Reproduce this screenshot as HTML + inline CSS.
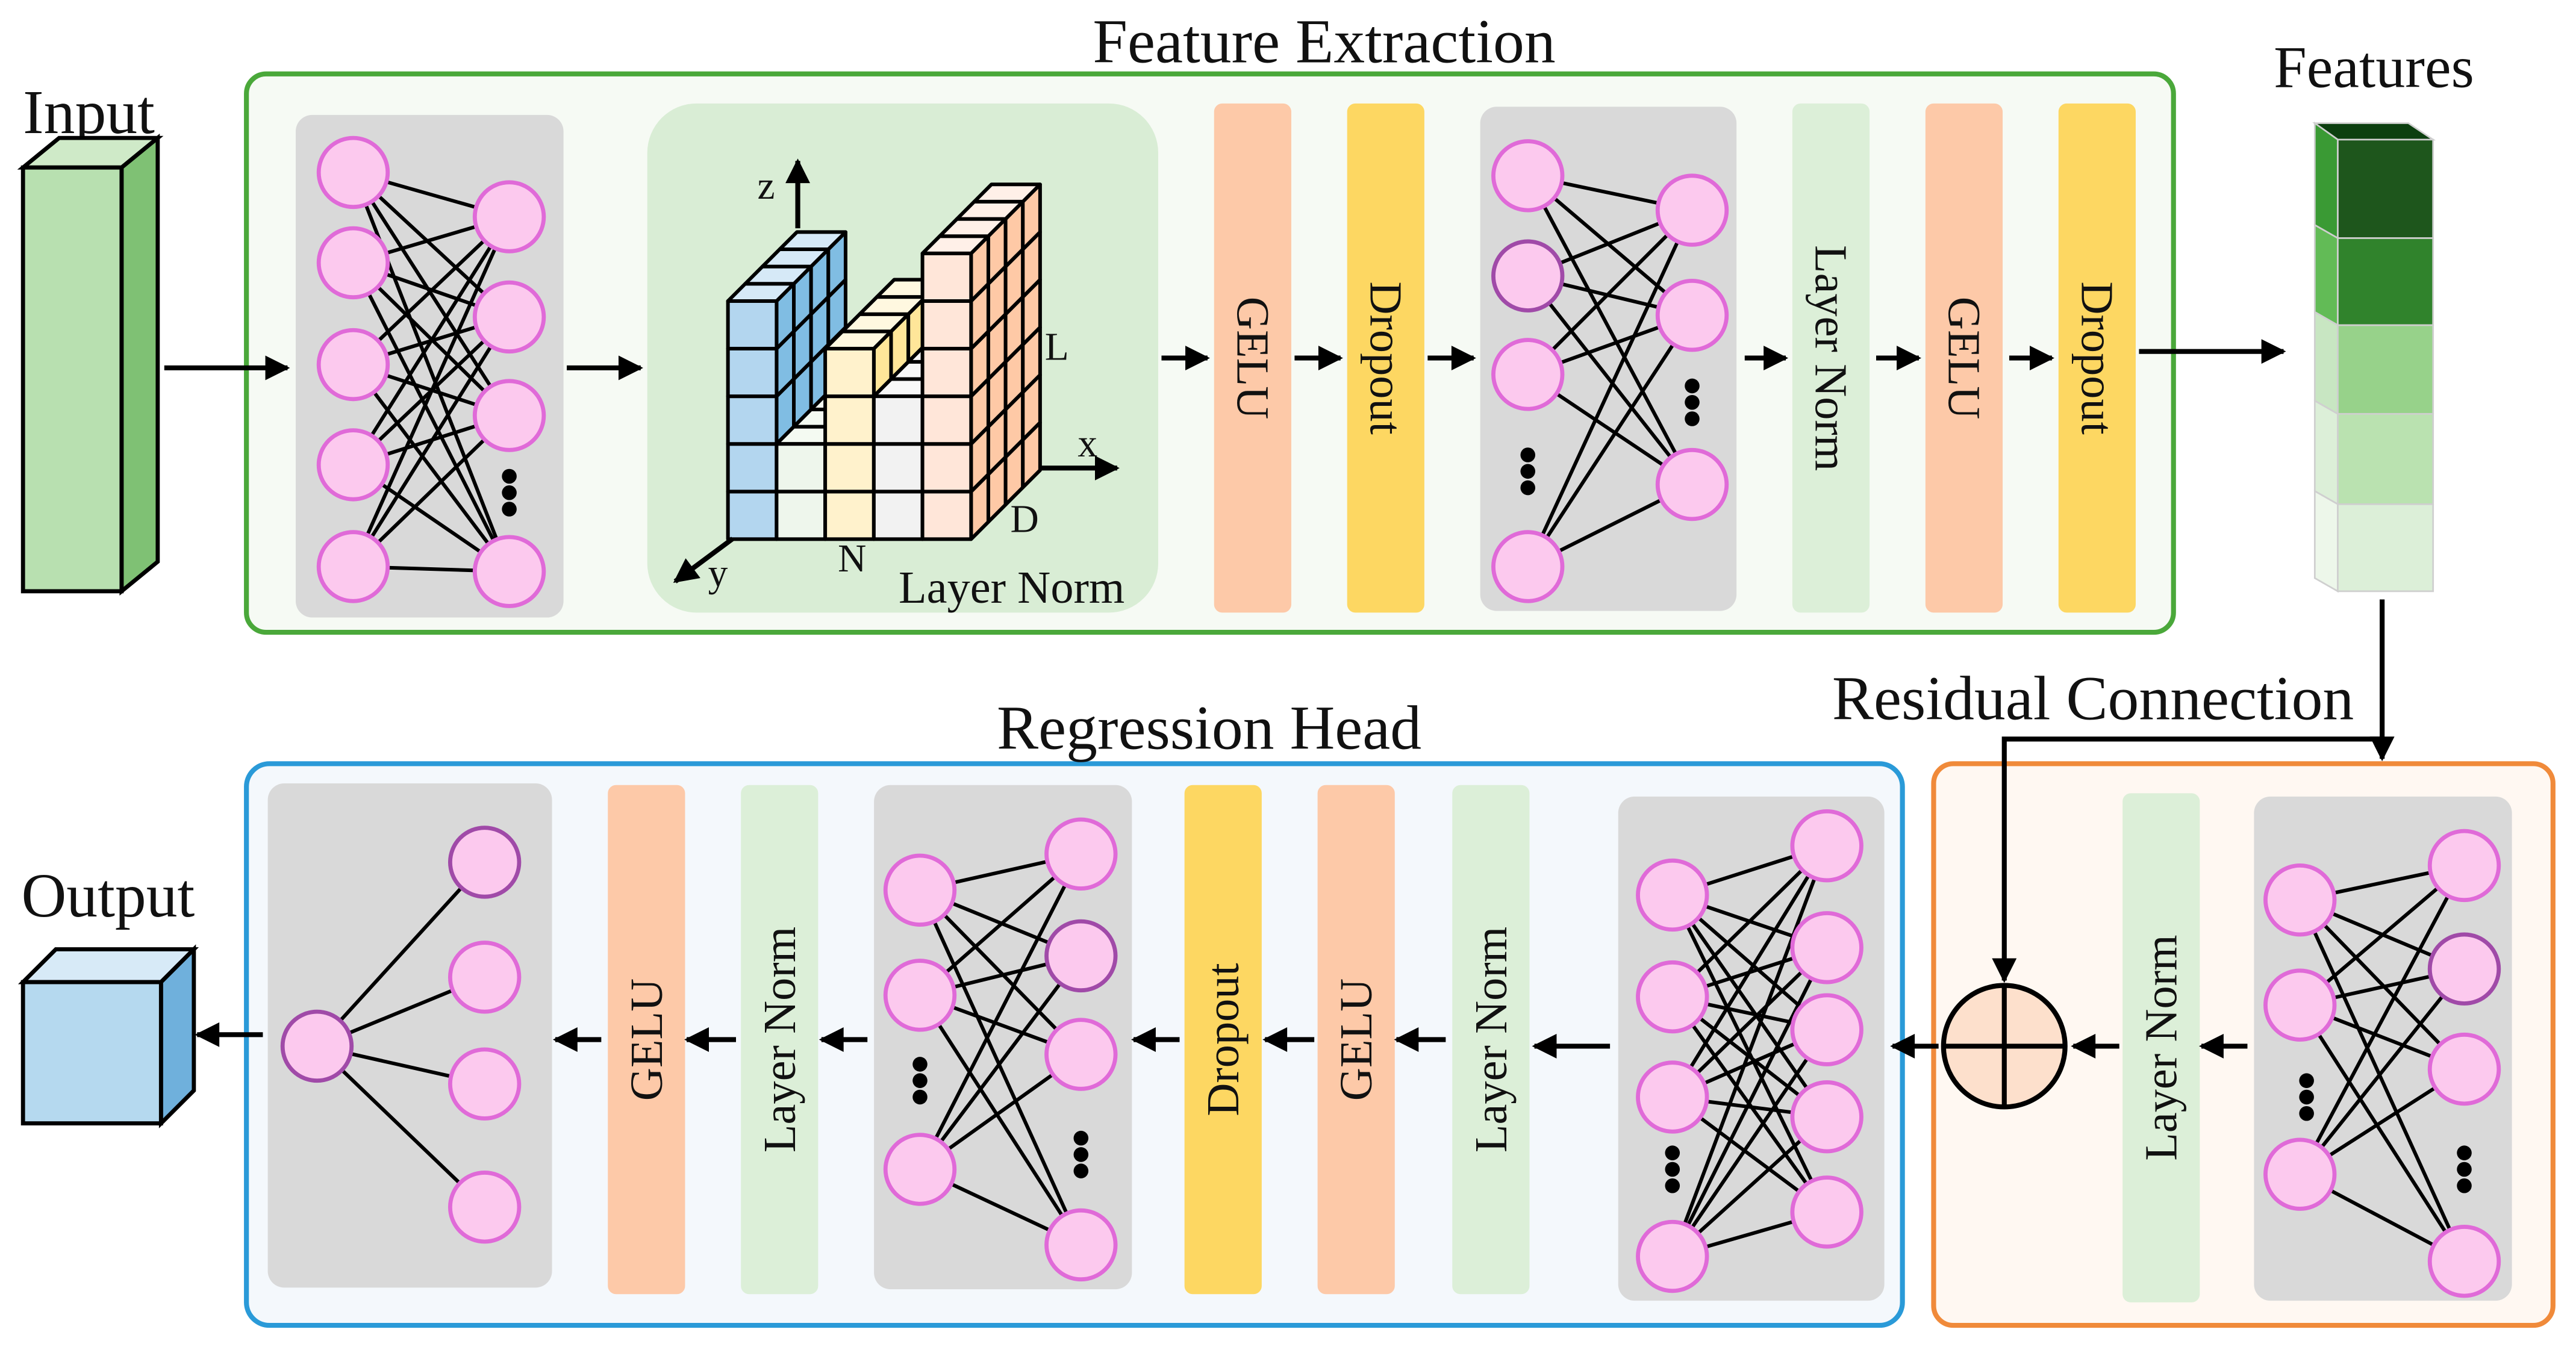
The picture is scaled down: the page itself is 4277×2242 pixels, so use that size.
<!DOCTYPE html>
<html><head><meta charset="utf-8"><style>
html,body{margin:0;padding:0;background:#fff;}
svg{display:block;}
text{font-family:"Liberation Serif",serif;fill:#111;}
</style></head><body>
<svg id="s" width="4277" height="2242" viewBox="0 0 1568 822" preserveAspectRatio="none" xmlns="http://www.w3.org/2000/svg">
<defs>
<marker id="ah" viewBox="0 0 10 10" refX="9" refY="5" markerWidth="5.5" markerHeight="5" orient="auto"><path d="M0,0 L10,5 L0,10 z" fill="#000"/></marker>
</defs>
<rect width="1568" height="822" fill="#fff"/>
<rect x="150" y="45" width="1173" height="340" rx="12" fill="#f6faf4" stroke="#4aa83a" stroke-width="3"/>
<rect x="150" y="465" width="1008" height="342" rx="14" fill="#f4f8fc" stroke="#2a9ad8" stroke-width="3"/>
<rect x="1177" y="465" width="377" height="342" rx="12" fill="#fff8f2" stroke="#f08a3a" stroke-width="3"/>

<text x="806" y="38" font-size="38" text-anchor="middle">Feature Extraction</text>
<text x="736" y="456" font-size="38" text-anchor="middle">Regression Head</text>
<text x="1274" y="438" font-size="38" text-anchor="middle">Residual Connection</text>
<text x="14" y="81" font-size="38">Input</text>
<text x="1445" y="53" font-size="36" text-anchor="middle">Features</text>
<text x="13" y="558" font-size="38">Output</text>

<polygon points="14,102 36,84 96,84 74,102" fill="#cfeac8" stroke="#000" stroke-width="2.5"/>
<polygon points="74,102 96,84 96,342 74,360" fill="#7fc174" stroke="#000" stroke-width="2.5"/>
<rect x="14" y="102" width="60" height="258" fill="#b8e0b0" stroke="#000" stroke-width="2.5"/>
<polygon points="14,598 34,578 118,578 98,598" fill="#d7eaf7" stroke="#000" stroke-width="2.5"/>
<polygon points="98,598 118,578 118,664 98,684" fill="#6fb0dc" stroke="#000" stroke-width="2.5"/>
<rect x="14" y="598" width="84" height="86" fill="#b5d9ef" stroke="#000" stroke-width="2.5"/>

<rect x="394" y="63" width="311" height="310" rx="30" fill="#d9edd5"/>
<g id="cube"></g>
<text x="547" y="367" font-size="28">Layer Norm</text>
<text x="461" y="121" font-size="24">z</text>
<text x="636" y="219" font-size="24">L</text>
<text x="656" y="278" font-size="24">x</text>
<text x="615" y="324" font-size="24">D</text>
<text x="510" y="348" font-size="24">N</text>
<text x="431" y="357" font-size="24">y</text>

<g id="bars"></g>
<g id="nets"></g>

<g stroke="#cfcfcf" stroke-width="1">
<polygon points="1409,75 1466,75 1481,85 1423,85" fill="#0c3f0f"/>
<polygon points="1409,75 1423,85 1423,145 1409,137" fill="#3a9a34"/>
<polygon points="1409,137 1423,145 1423,198 1409,190" fill="#62bb56"/>
<polygon points="1409,190 1423,198 1423,252 1409,244" fill="#c8e6c2"/>
<polygon points="1409,244 1423,252 1423,307 1409,299" fill="#dcefd8"/>
<polygon points="1409,299 1423,307 1423,360 1409,352" fill="#edf7ea"/>
<rect x="1423" y="85" width="58" height="60" fill="#1e561c"/>
<rect x="1423" y="145" width="58" height="53" fill="#30832c"/>
<rect x="1423" y="198" width="58" height="54" fill="#97d28a"/>
<rect x="1423" y="252" width="58" height="55" fill="#bae2b0"/>
<rect x="1423" y="307" width="58" height="53" fill="#dcefd8"/>
</g>

<g stroke="#000" stroke-width="3" fill="none">
<path d="M1450,365 L1450,462" marker-end="url(#ah)"/>
<path d="M1450,450 L1220,450 L1220,597" marker-end="url(#ah)"/>
</g>
<circle cx="1220" cy="637" r="37" fill="#fde0cc" stroke="#000" stroke-width="3"/>
<line x1="1183" y1="637" x2="1257" y2="637" stroke="#000" stroke-width="3"/>
<line x1="1220" y1="600" x2="1220" y2="674" stroke="#000" stroke-width="3"/>

<g id="arrows" stroke="#000" stroke-width="3"></g>
</svg>
<script>
var NS="http://www.w3.org/2000/svg";
function el(p,t,a,txt){var e=document.createElementNS(NS,t);for(var k in a)e.setAttribute(k,a[k]);if(txt)e.textContent=txt;document.getElementById(p).appendChild(e);return e;}
var O="#fdc9a8",Y="#fdd762",G="#dcefd8";
var bars=[[739,63,310,O,"GELU"],[820,63,310,Y,"Dropout"],[1091,63,310,G,"Layer Norm"],[1172,63,310,O,"GELU"],[1253,63,310,Y,"Dropout"],
[1292,483,310,G,"Layer Norm"],[884,478,310,G,"Layer Norm"],[802,478,310,O,"GELU"],[721,478,310,Y,"Dropout"],[451,478,310,G,"Layer Norm"],[370,478,310,O,"GELU"]];
bars.forEach(function(b){el("bars","rect",{x:b[0],y:b[1],width:47,height:b[2],rx:5,fill:b[3]});
 var cx=b[0]+23.5,cy=b[1]+b[2]/2;
 var top=b[1]<200;
 el("bars","text",{x:cx,y:cy,"font-size":28,"text-anchor":"middle","dominant-baseline":"central",transform:"rotate("+(top?90:-90)+" "+cx+" "+cy+")"},b[4]);});
function net(px,py,pw,ph,L,R,ldots,rdots,purp){
 el("nets","rect",{x:px,y:py,width:pw,height:ph,rx:10,fill:"#d9d9d9"});
 L.forEach(function(a){R.forEach(function(b){el("nets","line",{x1:a[0],y1:a[1],x2:b[0],y2:b[1],stroke:"#000","stroke-width":2.2});});});
 L.concat(R).forEach(function(n,i){el("nets","circle",{cx:n[0],cy:n[1],r:21,fill:"#fcc9ee",stroke:(purp&&purp.indexOf(i)>=0)?"#a04aa8":"#e06ad8","stroke-width":2.5});});
 (ldots||[]).concat(rdots||[]).forEach(function(d){for(var k=-1;k<=1;k++)el("nets","circle",{cx:d[0],cy:d[1]+k*10,r:4.5,fill:"#000"});});
}
function pts(x,ys){return ys.map(function(y){return[x,y];});}
net(180,70,163,306,pts(215,[105,160,222,283,345]),pts(310,[132,193,253,348]),[],[[310,300]]);
net(901,65,156,307,pts(930,[107,168,228,345]),pts(1030,[128,192,295]),[[930,287]],[[1030,245]],[1]);
net(1372,485,157,307,pts(1400,[548,612,715]),pts(1500,[527,590,651,768]),[[1404,668]],[[1500,712]],[4]);
net(985,485,162,307,pts(1018,[545,607,668,765]),pts(1112,[515,577,627,680,738]),[[1018,712]],[]);
net(532,478,157,307,pts(560,[542,606,712]),pts(658,[520,582,642,758]),[[560,658]],[[658,703]],[4]);
net(163,477,173,307,[[193,637]],pts(295,[525,595,660,735]),[],[],[0,1]);
var A=[[100,224,175,224],[345,224,390,224],[707,218,735,218],[788,218,816,218],[869,218,897,218],[1062,218,1087,218],[1142,218,1168,218],[1223,218,1249,218],[1302,214,1390,214],
[1368,637,1340,637],[1290,637,1262,637],[1180,637,1152,637],[980,637,934,637],[880,633,850,633],[800,633,770,633],[718,633,690,633],[528,633,500,633],[448,633,418,633],[366,633,338,633],[160,630,120,630]];
A.forEach(function(a){el("arrows","line",{x1:a[0],y1:a[1],x2:a[2],y2:a[3],"marker-end":"url(#ah)"});});
var x0=443.1,cw=29.6,base=328.3,chh=29,dd=10.5,D=4;
var cols=[[5,"#b3d6ef","#80bde3","#d6e9f7"],[2,"#eef6ec","#dfeedd","#f4faf2"],[4,"#fff2cc","#ffe699","#fff8e0"],[3,"#f2f2f2","#e4e4e4","#f8f8f8"],[6,"#ffe6d9","#fec9a6","#fff0e8"]];
var st={stroke:"#000","stroke-width":2.2,"stroke-linejoin":"round"};
function poly(p,f){var a={points:p.map(function(q){return q.join(",");}).join(" "),fill:f};for(var k in st)a[k]=st[k];el("cube","polygon",a);}
cols.forEach(function(c,i){
 var xl=x0+i*cw,xr=xl+cw,h=c[0],yt=base-h*chh;
 for(var r=0;r<h;r++)for(var d=0;d<D;d++){var y1=base-r*chh;poly([[xr+d*dd,y1-d*dd],[xr+(d+1)*dd,y1-(d+1)*dd],[xr+(d+1)*dd,y1-chh-(d+1)*dd],[xr+d*dd,y1-chh-d*dd]],c[2]);}
 for(var d=0;d<D;d++)poly([[xl+d*dd,yt-d*dd],[xr+d*dd,yt-d*dd],[xr+(d+1)*dd,yt-(d+1)*dd],[xl+(d+1)*dd,yt-(d+1)*dd]],c[3]);
 for(var r=0;r<h;r++){var y1=base-(r+1)*chh;var a={x:xl,y:y1,width:cw,height:chh,fill:c[1]};for(var k in st)a[k]=st[k];el("cube","rect",a);}
});
el("cube","line",{x1:485.6,y1:139,x2:485.6,y2:98,stroke:"#000","stroke-width":3,"marker-end":"url(#ah)"});
el("cube","line",{x1:633,y1:285,x2:680,y2:285,stroke:"#000","stroke-width":3,"marker-end":"url(#ah)"});
el("cube","line",{x1:446,y1:328,x2:411,y2:354,stroke:"#000","stroke-width":3,"marker-end":"url(#ah)"});
</script>
</body></html>
